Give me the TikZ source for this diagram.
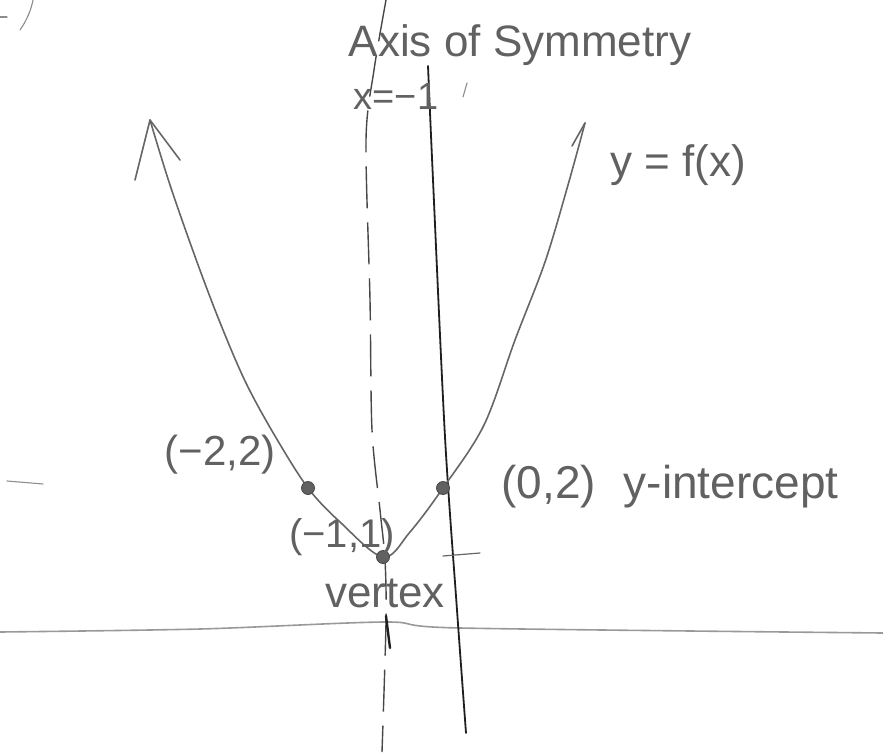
\documentclass[tikz,border=0pt]{standalone}
\usepackage{fontspec}
\setmainfont{Liberation Sans}
\begin{document}
\begin{tikzpicture}[x=1pt,y=-1pt,
  lbl/.style={inner sep=0pt, text=black!62, font=\fontsize{44}{48}\selectfont},
  ptdot/.style={circle, fill=black!62, draw=black!72, line width=0.8pt, minimum size=13pt, inner sep=0pt},
  curve/.style={draw=black!60, line width=1.6pt, line cap=round, line join=round},
  yaxis/.style={draw=black!88, line width=1.8pt, line cap=round},
  xaxis/.style={draw=black!40, line width=1.6pt, line cap=round},
  symaxis/.style={draw=black!72, line width=1.4pt, dash pattern=on 42pt off 14pt},
  stray/.style={draw=black!45, line width=1.1pt, line cap=round},
]
\useasboundingbox (0,0) rectangle (883,752);

% x-axis
\coordinate (xl) at (0,632);
\coordinate (xr) at (883,633);
\draw[xaxis] plot[smooth] coordinates {(xl) (200,629) (385,622) (460,628) (xr)};

% axis of symmetry (dashed)
\coordinate (st) at (386,0);
\coordinate (sb) at (382,752);
\draw[symaxis] plot[smooth] coordinates {(st) (374,70) (366,140) (370,300) (372,430) (380,510) (385,560) (386,622) (sb)};

% y-axis
\coordinate (yt) at (428,66);
\coordinate (yb) at (466,733);
\draw[yaxis] plot[smooth] coordinates {(yt) (433,180) (445,437) (457,610) (yb)};

% parabola
\coordinate (v) at (383,557);
\coordinate (a) at (308,488);
\coordinate (b) at (443,488);
\coordinate (LT) at (150,120);
\coordinate (RT) at (585,123);
\draw[curve] plot[smooth, tension=0.55] coordinates {(LT) (170,185) (197,262) (221,325) (246,383) (275,436) (a) (340,522) (v) (410,532) (b) (484,425) (515,340) (545,262) (568,185) (RT)};

% arrow heads
\coordinate (LW1) at (135,180);
\coordinate (LW2) at (180,160);
\coordinate (RW) at (572,146);
\draw[curve] (LW1) -- (LT) -- (LW2);
\draw[curve] (RT) -- (RW);

% points
\node[ptdot] (V) at (v) {};
\node[ptdot] (A) at (a) {};
\node[ptdot] (B) at (b) {};

% ticks
\coordinate (tx1) at (386,616);
\coordinate (tx2) at (390,648);
\draw[yaxis, line width=2.4pt] (tx1) -- (tx2);
\coordinate (ty1) at (443,556);
\coordinate (ty2) at (480,553);
\draw[curve, line width=1.2pt] (ty1) -- (ty2);

% labels
\node[lbl] (axis) at (520,45) {Axis of Symmetry};
\node[lbl, font=\fontsize{38}{42}\selectfont] (eq) at (396,96) {x=−1};
\node[lbl] (fx) at (678,165) {y = f(x)};
\node[lbl, font=\fontsize{46}{50}\selectfont] (yint) at (670,487) {(0,2)\hspace{0.6em}y-intercept};
\node[lbl, font=\fontsize{42}{46}\selectfont] (lm2) at (220,455) {(−2,2)};
\node[lbl, font=\fontsize{40}{44}\selectfont] (lm1) at (342,537) {(−1,1)};
\node[lbl] (vx) at (385,593) {vertex};

% stray marks
\coordinate (s1a) at (20,30);
\coordinate (s1b) at (33,0);
\draw[stray] (s1a) .. controls (27,20) and (31,10) .. (s1b);
\coordinate (s2a) at (0,17);
\coordinate (s2b) at (7,17);
\draw[stray] (s2a) -- (s2b);
\coordinate (s3a) at (7,481);
\coordinate (s3b) at (43,484);
\draw[stray] (s3a) -- (s3b);
\coordinate (s4a) at (467,83);
\coordinate (s4b) at (463,97);
\draw[stray] (s4a) -- (s4b);
\end{tikzpicture}
\end{document}
